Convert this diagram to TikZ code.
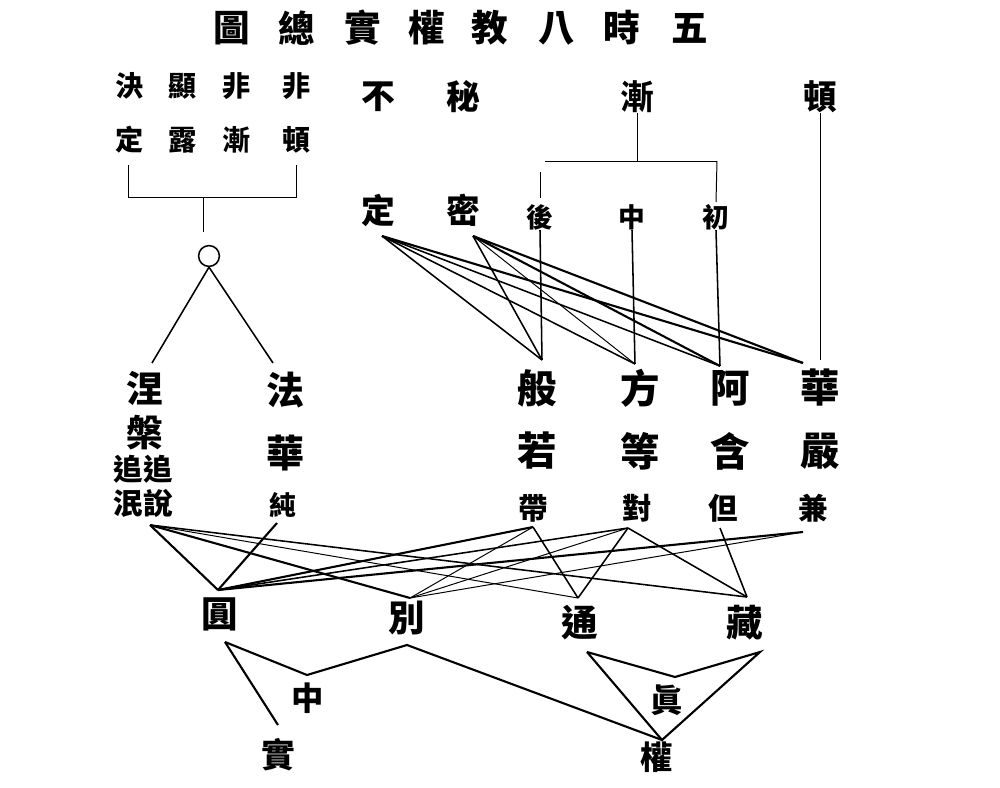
\documentclass[tikz,border=0pt]{standalone}
\usepackage{fontspec}
\newfontfamily\cjk{Noto Sans CJK TC}
\begin{document}
\begin{tikzpicture}[x=0.025cm,y=-0.025cm,
  t/.style={inner sep=0pt, font={\cjk\bfseries\fontsize{#1pt}{#1pt}\selectfont}},
  ln/.style={line width=1.1pt, line join=miter},
  lnthin/.style={line width=0.7pt},
  lnthick/.style={line width=1.5pt}]
\useasboundingbox (0,0) rectangle (1000,788);
% title
\foreach \c/\x [count=\i] in {圖/232,總/297,實/363,權/427,教/490,八/557,時/622,五/690}
  \node[t=26] (ti\i) at (\x,28) {\c};
% top-left block
\foreach \c/\x [count=\i] in {決/130,顯/183,非/237,非/297}
  \node[t=20] (ra\i) at (\x,86) {\c};
\foreach \c/\x [count=\i] in {定/130,露/183,漸/237,頓/297}
  \node[t=20] (rb\i) at (\x,140) {\c};
\coordinate (bl1) at (128,165); \coordinate (bl2) at (128,197);
\coordinate (br1) at (296,165); \coordinate (br2) at (296,197);
\coordinate (bs1) at (203,197); \coordinate (bs2) at (203,232);
\draw[lnthin] (bl1) -- (bl2) -- (br2) -- (br1);
\draw[lnthin] (bs1) -- (bs2);
\node[draw, circle, line width=1.1pt, minimum size=0.52cm, inner sep=0pt] (o) at (209,256) {};
\coordinate (nieT) at (152,363);
\coordinate (faT) at (273,363);
\draw[ln] (nieT) -- (o.south) -- (faT);
% top-right block
\node[t=24] (bu) at (378,97) {不};
\node[t=24] (bi) at (463,97) {秘};
\node[t=24] (jian) at (637,97) {漸};
\node[t=24] (dun) at (820,97) {頓};
\node[t=24] (ding) at (378,210) {定};
\node[t=24] (mi) at (463,210) {密};
\node[t=19] (hou) at (540,217) {後};
\node[t=19] (zh) at (632,217) {中};
\node[t=19] (chu) at (716,217) {初};
\coordinate (jb) at (637,161);
\coordinate (jl) at (545,161); \coordinate (jr) at (717,161);
\draw[lnthin] (jian.south) -- (jb);
\draw[lnthin] (jl) -- (jr);
\draw[lnthin] (540,172) coordinate (hl1) -- (540,198) coordinate (hl2);
\draw[lnthin] (jr) -- (716,202) coordinate (cl2);
% apex points of second tier
\coordinate (aBan) at (542,360);
\coordinate (aFang) at (635,364);
\coordinate (aA) at (720,366);
\coordinate (aHua) at (803,363);
\coordinate (sDing) at (382,236);
\coordinate (sMi) at (473,236);
\draw[ln] (hou.south) -- (aBan);
\draw[ln] (zh.south) -- (aFang);
\draw[ln] (chu.south) -- (aA);
\draw[lnthin] (dun.south) -- (820,360) coordinate (dunB);
\draw[ln] (sDing) -- (aBan);
\draw[ln] (sDing) -- (aFang);
\draw[ln] (sDing) -- (aA);
\draw[lnthick] (sDing) -- (aHua);
\draw[ln] (sMi) -- (aBan);
\draw[lnthin] (sMi) -- (aFang);
\draw[lnthick] (sMi) -- (aA);
\draw[lnthick] (sMi) -- (aHua);
% second tier
\node[t=26] (nie) at (145,388) {涅};
\node[t=26] (pan) at (145,433) {槃};
\node[t=21] (zz) at (143,469) {追追};
\node[t=21] (ms) at (143,503) {泯說};
\node[t=27] (fa) at (285,390) {法};
\node[t=27] (hua1) at (285,453) {華};
\node[t=19] (chun) at (283,505) {純};
\node[t=28] (ban) at (537,388) {般};
\node[t=28] (ruo) at (537,451) {若};
\node[t=21] (dai) at (533,508) {帶};
\node[t=28] (fang) at (640,388) {方};
\node[t=28] (deng) at (640,451) {等};
\node[t=21] (dui) at (637,508) {對};
\node[t=28] (a) at (730,388) {阿};
\node[t=28] (han) at (730,451) {含};
\node[t=21] (dan) at (723,508) {但};
\node[t=28] (hua2) at (820,388) {華};
\node[t=28] (yan) at (820,451) {嚴};
\node[t=21] (jn) at (813,508) {兼};
% third tier
\node[t=26] (yuan) at (220,614) {圓};
\node[t=26] (bie) at (407,618) {別};
\node[t=26] (tong) at (580,623) {通};
\node[t=26] (zang) at (745,623) {藏};
\coordinate (aYuan) at (218,590);
\coordinate (aBie) at (410,598);
\coordinate (aTong) at (578,598);
\coordinate (aZang) at (747,597);
\coordinate (sMs) at (150,525);
\coordinate (sChun) at (277,523);
\coordinate (sDai) at (533,527);
\coordinate (sDui) at (628,528);
\coordinate (sDan) at (720,528);
\coordinate (sJian) at (803,532);
\draw[lnthick] (sMs) -- (aYuan);
\draw[lnthick] (sMs) -- (aBie);
\draw[lnthin] (sMs) -- (aTong);
\draw[ln] (sMs) -- (aZang);
\draw[lnthick] (sChun) -- (aYuan);
\draw[lnthick] (sDai) -- (aYuan);
\draw[lnthin] (sDai) -- (aBie);
\draw[ln] (sDai) -- (aTong);
\draw[ln] (sDui) -- (aYuan);
\draw[lnthin] (sDui) -- (aBie);
\draw[ln] (sDui) -- (aTong);
\draw[ln] (sDui) -- (aZang);
\draw[ln] (sDan) -- (aZang);
\draw[lnthick] (sJian) -- (aYuan);
\draw[lnthin] (sJian) -- (aBie);
% bottom
\node[t=23] (zhong) at (308,698) {中};
\node[t=23] (zhen) at (667,700) {眞};
\node[t=24] (shi) at (278,755) {實};
\node[t=23] (quan) at (657,757) {權};
\coordinate (bYuan) at (225,642);
\coordinate (bBie) at (407,645);
\coordinate (bTong) at (587,652);
\coordinate (bZang) at (760,652);
\coordinate (aZhong) at (307,675);
\coordinate (aZhen) at (675,677);
\coordinate (aShi) at (278,725);
\coordinate (aQuan) at (662,740);
\draw[lnthick] (bYuan) -- (aZhong) -- (bBie) -- (aQuan);
\draw[lnthick] (bYuan) -- (aShi);
\draw[lnthick] (bTong) -- (aZhen) -- (bZang) -- (aQuan) -- (bTong);
\end{tikzpicture}
\end{document}
